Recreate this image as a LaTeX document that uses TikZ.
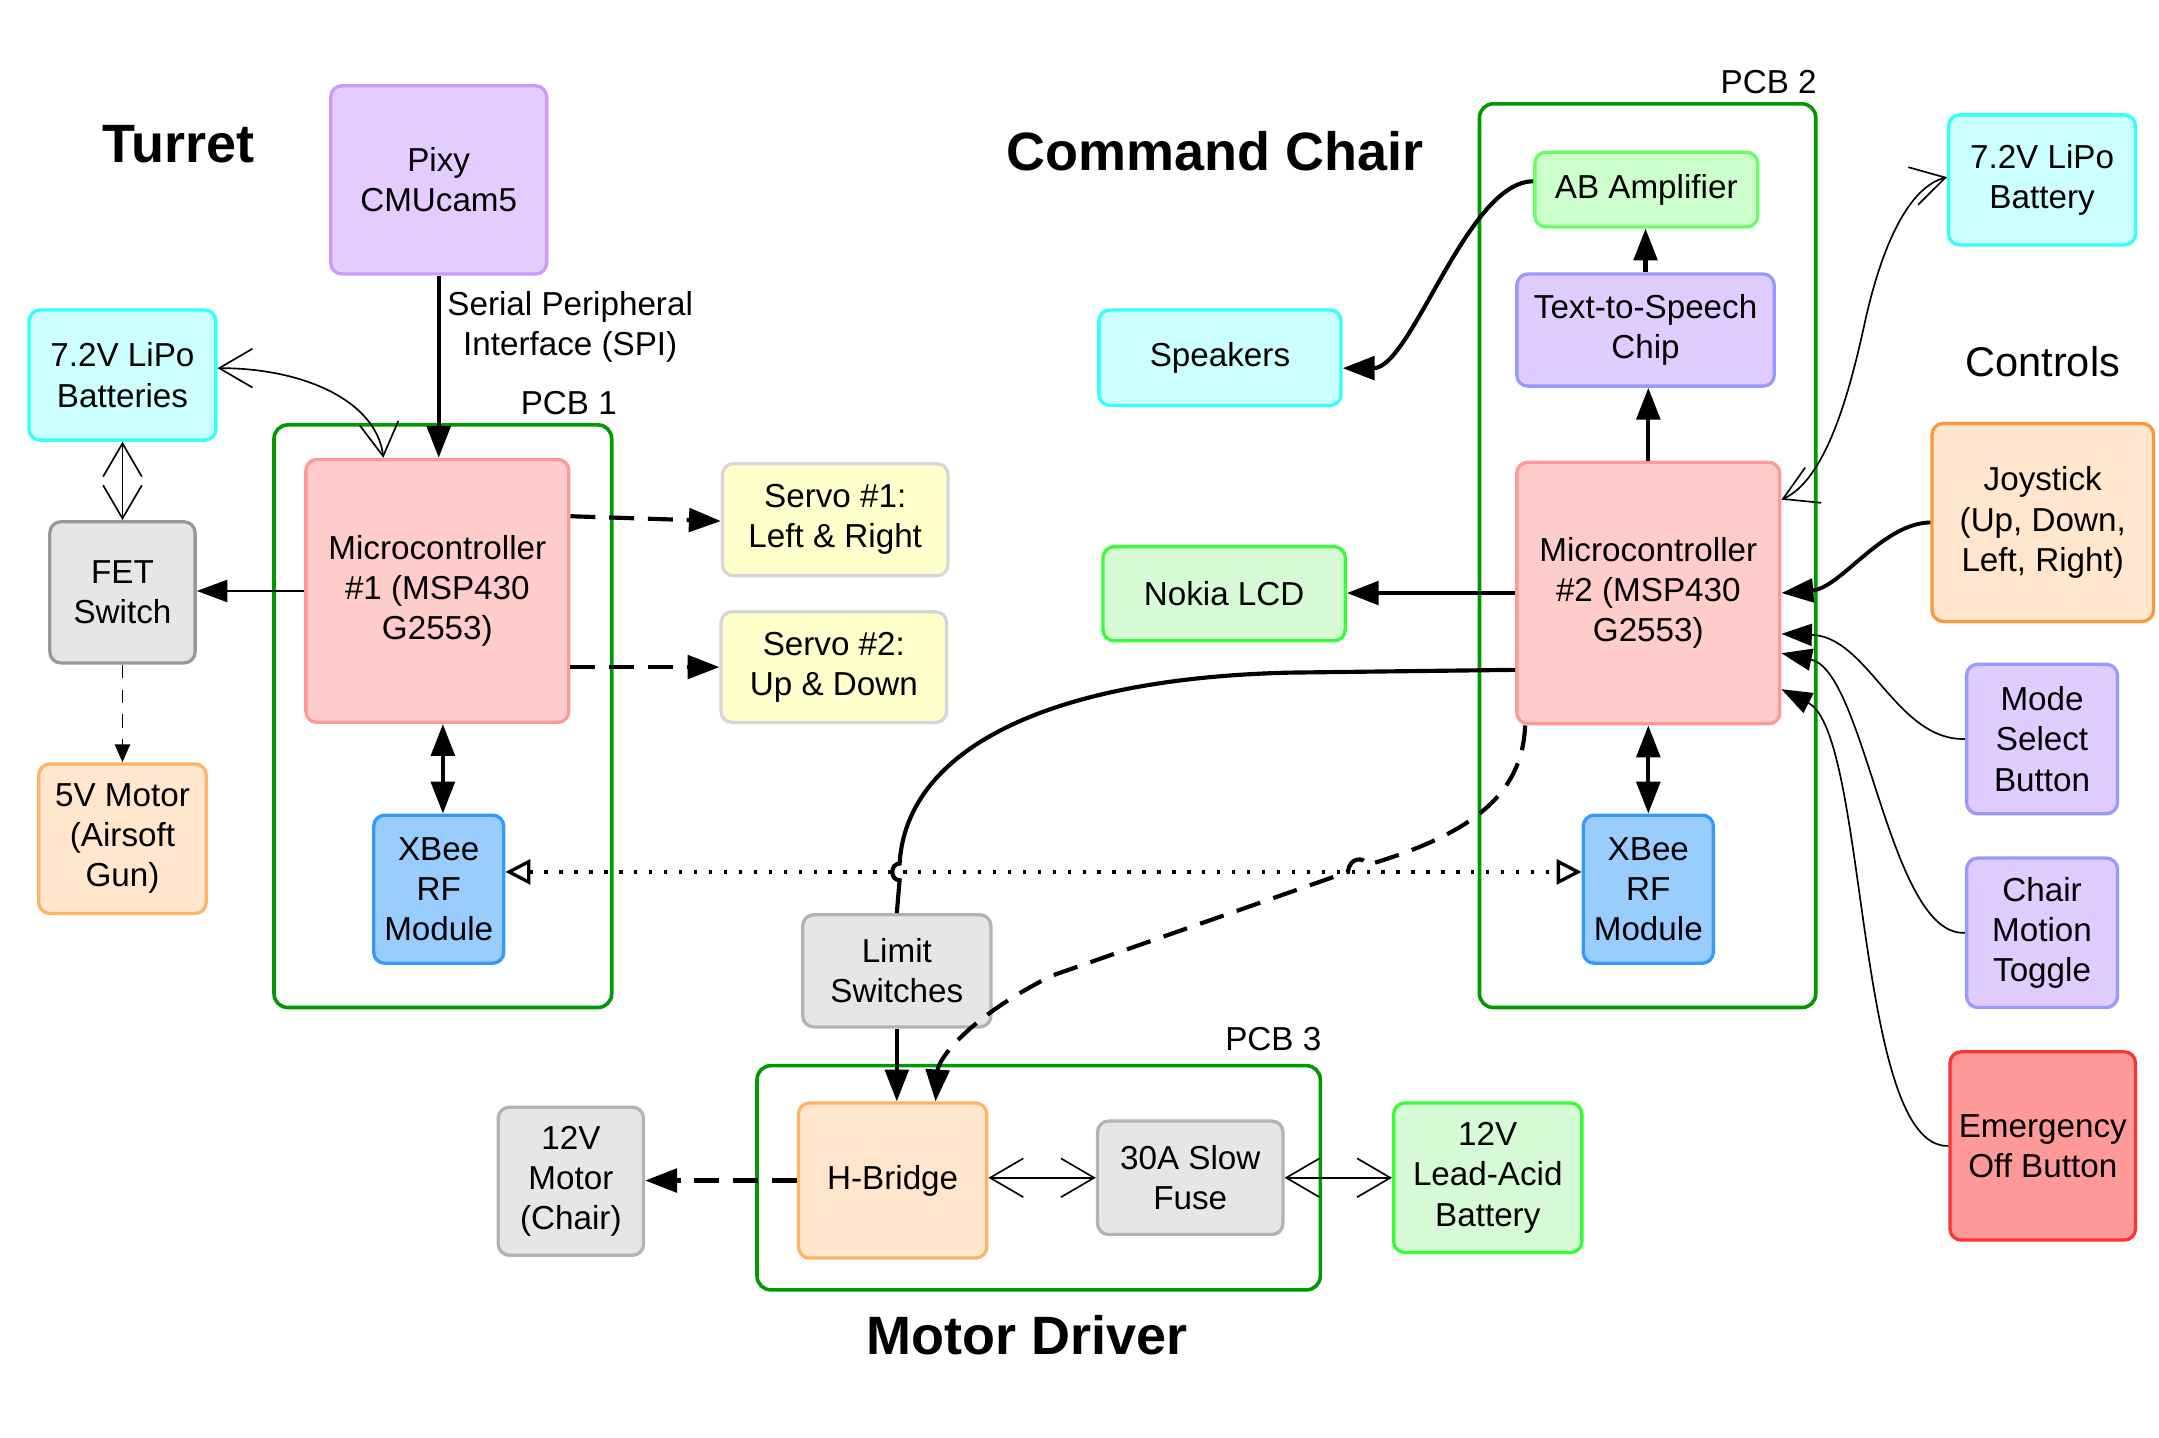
\documentclass[tikz,border=0pt]{standalone}
\usepackage{fontspec}
\setmainfont{Liberation Sans}
\usetikzlibrary{arrows.meta}
\definecolor{cyanF}{HTML}{CCFFFF}
\definecolor{cyanB}{HTML}{33FFFF}
\definecolor{grayF}{HTML}{E6E6E6}
\definecolor{grayB}{HTML}{999999}
\definecolor{grayBl}{HTML}{B3B3B3}
\definecolor{orangeF}{HTML}{FFE6CC}
\definecolor{orangeB}{HTML}{FFB366}
\definecolor{orangeBd}{HTML}{FF9933}
\definecolor{pinkF}{HTML}{FFCCCC}
\definecolor{pinkB}{HTML}{FF9999}
\definecolor{blueF}{HTML}{99CCFF}
\definecolor{blueB}{HTML}{3399FF}
\definecolor{yellowF}{HTML}{FFFFCC}
\definecolor{yellowB}{HTML}{D6D6D6}
\definecolor{greenF}{HTML}{CCFFCC}
\definecolor{greenFl}{HTML}{D5FAD5}
\definecolor{greenB}{HTML}{33FF33}
\definecolor{ampB}{HTML}{66FF66}
\definecolor{purpleF}{HTML}{E5CCFF}
\definecolor{purpleB}{HTML}{CC99FF}
\definecolor{violetF}{HTML}{E0CCFF}
\definecolor{violetB}{HTML}{9999FF}
\definecolor{redF}{HTML}{FF9999}
\definecolor{redB}{HTML}{FF3333}
\definecolor{pcbgreen}{HTML}{009900}
\newcommand\myfs{\fontsize{12}{14.5}\selectfont}
\newcommand\mytitle{\fontsize{19.5}{23}\selectfont\bfseries}
\begin{document}
\begin{tikzpicture}[x=0.5pt,y=-0.5pt,
  box/.style={draw, rounded corners=4pt, line width=1.2pt, align=center, inner sep=1pt, font=\myfs},
  pcb/.style={draw=pcbgreen, line width=1.3pt, rounded corners=5pt, inner sep=0pt},
  lbl/.style={font=\myfs, align=center, inner sep=0pt},
  ttl/.style={font=\mytitle, inner sep=0pt},
  thickc/.style={line width=1.5pt},
  thinc/.style={line width=0.6pt},
  fa/.style={-{Triangle[length=11.5pt,width=8.5pt]}},
  fat/.style={-{Triangle[length=11pt,width=8pt]}},
  fab/.style={{Triangle[length=11.5pt,width=8.5pt]}-{Triangle[length=11.5pt,width=8.5pt]}},
  ov/.style={{Straight Barb[length=12pt,width=14pt]}-{Straight Barb[length=12pt,width=14pt]}},
  dsh/.style={dash pattern=on 9pt off 5pt},
]
\useasboundingbox (0,0) rectangle (1560,1039);

% containers
\node[pcb, minimum width=122pt, minimum height=210.5pt] (pcb1) at (320,517.5) {};
\node[pcb, minimum width=121.5pt, minimum height=326.5pt] (pcb2) at (1190.5,401.5) {};
\node[pcb, minimum width=203.5pt, minimum height=81pt] (pcb3) at (750.5,851) {};
\node[lbl] (pcb1l) at (411,291) {PCB 1};
\node[lbl] (pcb2l) at (1278,59) {PCB 2};
\node[lbl] (pcb3l) at (920,751) {PCB 3};

% titles
\node[ttl] (tturret) at (129,104) {Turret};
\node[ttl] (tchair) at (878,109) {Command Chair};
\node[ttl] (tmotor) at (742,965) {Motor Driver};
\node[font=\fontsize{15}{18}\selectfont, inner sep=0pt] (tcontrols) at (1476,261) {Controls};

% turret
\node[box, fill=purpleF, draw=purpleB, minimum width=78pt, minimum height=68pt] (pixy) at (317,130) {Pixy\\CMUcam5};
\node[box, fill=cyanF, draw=cyanB, minimum width=67.5pt, minimum height=47pt] (lipo1) at (88.5,271) {7.2V LiPo\\Batteries};
\node[box, fill=grayF, draw=grayB, minimum width=52.5pt, minimum height=51pt] (fet) at (88.5,428) {FET\\Switch};
\node[box, fill=orangeF, draw=orangeB, minimum width=60.5pt, minimum height=54pt] (motor5) at (88.5,606) {5V Motor\\(Airsoft\\Gun)};
\node[box, fill=pinkF, draw=pinkB, minimum width=95pt, minimum height=95pt] (mc1) at (316,427) {Microcontroller\\\#1 (MSP430\\G2553)};
\node[box, fill=blueF, draw=blueB, minimum width=47pt, minimum height=53.5pt] (xb1) at (317,642.5) {XBee\\RF\\Module};
\node[box, fill=yellowF, draw=yellowB, minimum width=81.5pt, minimum height=40.5pt] (servo1) at (603.5,375.5) {Servo \#1:\\Left \& Right};
\node[box, fill=yellowF, draw=yellowB, minimum width=81.5pt, minimum height=40pt] (servo2) at (602.5,482) {Servo \#2:\\Up \& Down};
\node[lbl] (spi) at (412,236) {Serial Peripheral\\Interface (SPI)};

% command chair
\node[box, fill=cyanF, draw=cyanB, minimum width=87.5pt, minimum height=34.5pt] (spk) at (881.5,258.5) {Speakers};
\node[box, fill=greenFl, draw=greenB, minimum width=87.5pt, minimum height=34pt] (nokia) at (884.5,429) {Nokia LCD};
\node[box, fill=greenF, draw=ampB, minimum width=80.5pt, minimum height=27pt] (amp) at (1189.5,137) {AB Amplifier};
\node[box, fill=violetF, draw=violetB, minimum width=93pt, minimum height=40.5pt] (tts) at (1189,238.5) {Text-to-Speech\\Chip};
\node[box, fill=pinkF, draw=pinkB, minimum width=95pt, minimum height=94.5pt] (mc2) at (1191,428.5) {Microcontroller\\\#2 (MSP430\\G2553)};
\node[box, fill=blueF, draw=blueB, minimum width=47pt, minimum height=53.5pt] (xb2) at (1191,642.5) {XBee\\RF\\Module};

% controls
\node[box, fill=cyanF, draw=cyanB, minimum width=67.5pt, minimum height=47pt] (lipo2) at (1475.5,130) {7.2V LiPo\\Battery};
\node[box, fill=orangeF, draw=orangeBd, minimum width=80pt, minimum height=71.5pt] (joy) at (1476,377.5) {Joystick\\(Up, Down,\\Left, Right)};
\node[box, fill=violetF, draw=violetB, minimum width=54.5pt, minimum height=54pt] (mode) at (1475.5,534) {Mode\\Select\\Button};
\node[box, fill=violetF, draw=violetB, minimum width=54.5pt, minimum height=54pt] (chair) at (1475.5,674) {Chair\\Motion\\Toggle};
\node[box, fill=redF, draw=redB, minimum width=67pt, minimum height=68pt] (emerg) at (1476,828) {Emergency\\Off Button};

% motor driver
\node[box, fill=grayF, draw=grayBl, minimum width=68pt, minimum height=40.5pt] (limit) at (648,701.5) {Limit\\Switches};
\node[box, fill=orangeF, draw=orangeB, minimum width=68pt, minimum height=56pt] (hb) at (645,853) {H-Bridge};
\node[box, fill=grayF, draw=grayBl, minimum width=67pt, minimum height=41pt] (fuse) at (860,851) {30A Slow\\Fuse};
\node[box, fill=greenFl, draw=greenB, minimum width=68pt, minimum height=54pt] (lead) at (1075,851) {12V\\Lead-Acid\\Battery};
\node[box, fill=grayF, draw=grayBl, minimum width=52.5pt, minimum height=53.5pt] (motor12) at (412.5,853.5) {12V\\Motor\\(Chair)};

% ---------- connectors ----------
% turret
\draw[thickc, fa] (pixy.south) -- (pixy.south |- mc1.north);
\draw[thinc, ov] ([yshift=2.5pt]lipo1.east) .. controls (220,266) and (272,290) .. ([xshift=-19.5pt]mc1.north);
\draw[thinc, ov] (lipo1.south) -- (fet.north);
\draw[thinc, fat] (mc1.west) -- (mc1.west -| fet.east);
\draw[thinc, dash pattern=on 5pt off 4pt, -{Triangle[length=6.5pt,width=5.5pt]}] (fet.south) -- (motor5.north);
\draw[thickc, dsh, fa] ([yshift=27pt]mc1.east) -- ([yshift=-0.5pt]servo1.west);
\draw[thickc, dsh, fa] ([yshift=-27.5pt]mc1.east) -- (servo2.west);
\draw[thickc, fab] ([xshift=2pt]mc1.south) -- ([xshift=2pt]mc1.south |- xb1.north);

% wireless link
\draw[line width=1.2pt, dash pattern=on 1.2pt off 4.2pt,
  {Triangle[open,length=9pt,width=9pt]}-{Triangle[open,length=9pt,width=9pt]}]
  ([yshift=6.25pt]xb1.east) -- ([yshift=6.25pt]xb2.west);

% command chair
\draw[thickc, fa] ([yshift=3pt]amp.west) .. controls (1060,131) and (1020,266) .. ([yshift=-3.75pt]spk.east);
\draw[thickc, fa] (tts.north) -- (tts.north |- amp.south);
\draw[thickc, fa] (mc2.north) -- (mc2.north |- tts.south);
\draw[thickc, fa] (mc2.west) -- (mc2.west -| nokia.east);
\draw[thickc, fab] (mc2.south) -- (mc2.south |- xb2.north);
\draw[thinc, ov] ([yshift=33.75pt]mc2.east) .. controls (1318,347) and (1335,290) .. (1347,235)
   .. controls (1360,175) and (1380,135) .. ([yshift=1pt]lipo2.west);

% controls
\draw[line width=1.4pt, fa] (joy.west) .. controls (1360,378) and (1330,425) .. (mc2.east);
\draw[thinc, fat] (mode.west) .. controls (1370,535) and (1350,460) .. ([yshift=-14.75pt]mc2.east);
\draw[thinc, fat] (chair.west) .. controls (1365,677) and (1348,485) .. ([yshift=-21.75pt]mc2.east);
\draw[thinc, fat] (emerg.west) .. controls (1340,830) and (1350,530) .. ([yshift=-34.75pt]mc2.east);

% motor driver
\draw[thickc] ([yshift=-27.75pt]mc2.west) -- (932,486) .. controls (760,490) and (655,540) .. (650,624)
   .. controls (643,624) and (643,636) .. (650,636) -- (limit.north);
\draw[thickc, dsh, fa] ([xshift=-44.5pt]mc2.south) .. controls (1100,575) and (1062,603) .. (988,625)
   .. controls (986,619) and (975,619) .. (974,630) -- (760,705)
   .. controls (700,735) and (678,765) .. ([xshift=15.5pt]hb.north);
\draw[thickc, fa] (limit.south) -- (limit.south |- hb.north);
\draw[thickc, dsh, fa] (hb.west) -- (hb.west -| motor12.east);
\draw[thinc, ov] (fuse.west -| hb.east) -- (fuse.west);
\draw[thinc, ov] (fuse.east) -- (lead.west);
\end{tikzpicture}
\end{document}
